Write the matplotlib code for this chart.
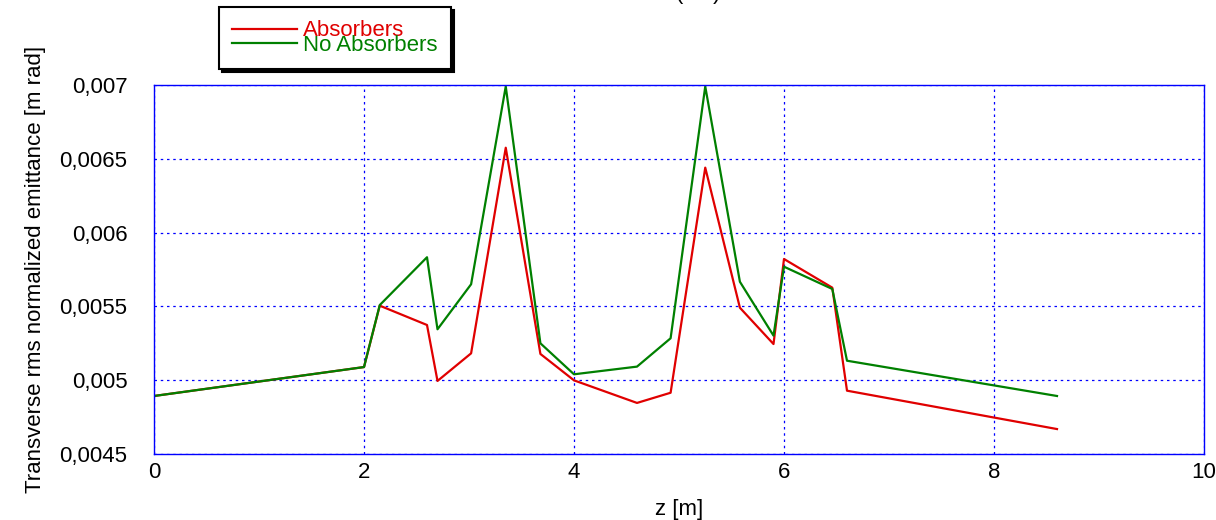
import numpy as np
import matplotlib
matplotlib.use('Agg')
import matplotlib.pyplot as plt
from matplotlib.ticker import FuncFormatter

matplotlib.rc('font', family='Liberation Sans', size=16)

# z positions [m]
z_abs = [0, 2.0, 2.15, 2.6, 2.7, 3.02, 3.35, 3.68, 4.0, 4.6, 4.92, 5.25, 5.58, 5.9, 6.0, 6.46, 6.6, 8.6]
z_noabs = [0, 2.0, 2.15, 2.6, 2.7, 3.02, 3.35, 3.68, 4.0, 4.6, 4.92, 5.25, 5.58, 5.9, 6.0, 6.46, 6.6, 8.6]

# emittance [m rad]
emit_abs = [0.004893, 0.005089, 0.005505, 0.005374, 0.004995, 0.005182, 0.006575, 0.005178,
            0.004999, 0.004846, 0.004915, 0.006440, 0.005491, 0.005245, 0.005821, 0.005627,
            0.004929, 0.004669]
emit_noabs = [0.004893, 0.005089, 0.005509, 0.005833, 0.005345, 0.005650, 0.006990, 0.005250,
              0.005040, 0.005092, 0.005284, 0.006990, 0.005667, 0.005302, 0.005769, 0.005618,
              0.005132, 0.004893]

fig = plt.figure(figsize=(12.16, 5.2), dpi=100)
ax = fig.add_axes([154 / 1216, 66 / 520, 1050 / 1216, 369 / 520])

l1, = ax.plot(z_abs, emit_abs, color='#e00000', lw=1.6, label='Absorbers')
l2, = ax.plot(z_noabs, emit_noabs, color='#008000', lw=1.6, label='No Absorbers')

ax.set_xlim(0, 10)
ax.set_ylim(0.0045, 0.007)
ax.set_xticks([0, 2, 4, 6, 8, 10])
ax.set_yticks([0.0045, 0.005, 0.0055, 0.006, 0.0065, 0.007])
ax.yaxis.set_major_formatter(FuncFormatter(lambda v, p: ('%g' % v).replace('.', ',')))
ax.tick_params(axis='y', length=0, pad=19, labelsize=16)
ax.tick_params(axis='x', length=0, pad=6, labelsize=16)

ax.grid(True, color='#0000ff', linestyle=(0, (2, 3)), linewidth=0.9)
for s in ax.spines.values():
    s.set_color('#0000ff')
    s.set_linewidth(1.0)

ax.set_xlabel('z [m]', fontsize=16, labelpad=11)
ax.set_ylabel('Transverse rms normalized emittance [m rad]', fontsize=16, labelpad=10)

fig.text(0.566, 1 + 1 / 520, 'Z (cm)', ha='center', va='baseline', fontsize=16)

leg = ax.legend(handles=[l1, l2], loc='upper left',
                bbox_to_anchor=(219 / 1216, 1 - 7 / 520), bbox_transform=fig.transFigure,
                borderaxespad=0, fontsize=16, labelcolor='linecolor',
                handlelength=2.9, handletextpad=0.3, borderpad=0.6, labelspacing=-0.3,
                fancybox=False, shadow={'color': 'black', 'alpha': 1.0}, framealpha=1)
leg.get_frame().set_edgecolor('black')
leg.get_frame().set_linewidth(1.5)

fig.savefig('out.png', dpi=100)
